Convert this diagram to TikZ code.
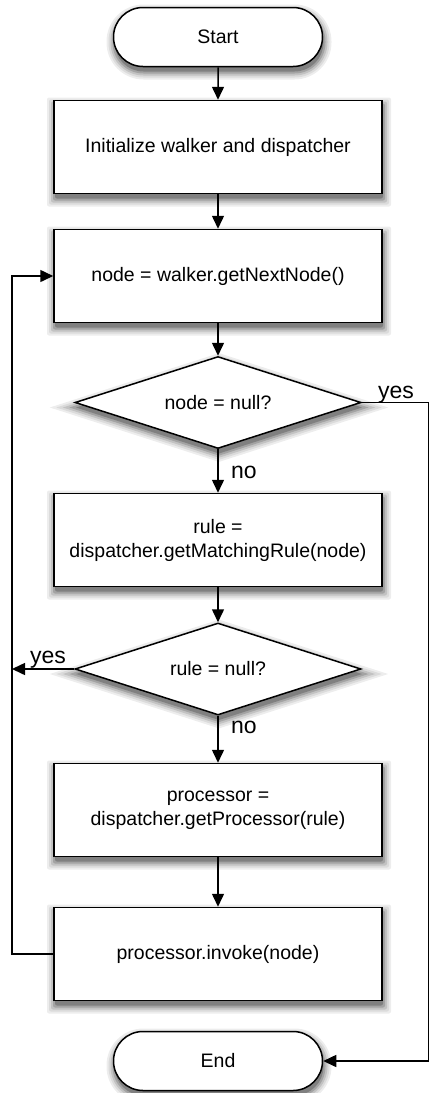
\documentclass[tikz,border=0pt]{standalone}
\usepackage{fontspec}
\setmainfont{Liberation Sans}
\usetikzlibrary{shapes.geometric,shapes.misc,arrows.meta}
\definecolor{shA}{gray}{0.93}
\definecolor{shB}{gray}{0.86}
\definecolor{shC}{gray}{0.76}
\definecolor{shD}{gray}{0.64}
\definecolor{shE}{gray}{0.50}
\newcommand\myrs[4]{%
  \foreach \ee/\cc in {8/shA,6/shB,4/shC,2/shD,0/shE}{%
    \fill[\cc, rounded corners=2pt] ({#1-#3/2+1-\ee},{#2-#4/2+5-\ee}) rectangle ({#1+#3/2+1+\ee},{#2+#4/2+5+\ee});}}
\newcommand\myts[4]{%
  \foreach \ee/\cc/\rr in {8/shA/37pt,6/shB/35pt,4/shC/33pt,2/shD/31pt,0/shE/29pt}{%
    \fill[\cc, rounded corners=\rr] ({#1-#3/2+1-\ee},{#2-#4/2+5-\ee}) rectangle ({#1+#3/2+1+\ee},{#2+#4/2+5+\ee});}}
\newcommand\myds[4]{%
  \foreach \ee/\cc in {8/shA,6/shB,4/shC,2/shD,0/shE}{%
    \fill[\cc] ({#1+1},{#2-#4/2+5-1.05*\ee}) -- ({#1+#3/2+1+3.27*\ee},{#2+5}) -- ({#1+1},{#2+#4/2+5+1.05*\ee}) -- ({#1-#3/2+1-3.27*\ee},{#2+5}) -- cycle;}}
\begin{document}
\begin{tikzpicture}[x=1pt,y=-1pt,
  base/.style={draw, line width=1.5pt, fill=white, font=\fontsize{19.5}{24}\selectfont, align=center, inner sep=0pt},
  procbox/.style={base, rectangle, minimum width=328pt, minimum height=93pt},
  term/.style={base, rounded rectangle, minimum width=209pt, minimum height=59pt},
  decide/.style={base, diamond, aspect=3.1, minimum width=286pt, minimum height=92pt},
  flow/.style={line width=1.5pt, -{Triangle[length=13pt,width=12pt]}},
  lbl/.style={font=\fontsize{23}{26}\selectfont, inner sep=0pt}
]
\useasboundingbox (0,0) rectangle (430,1093);
% shadows
\myts{218}{37}{209}{59}
\myrs{218}{147}{328}{93}
\myrs{218}{276}{328}{93}
\myds{218}{402.5}{286}{92}
\myrs{218}{540}{328}{93}
\myds{218}{669}{286}{92}
\myrs{218}{810}{328}{93}
\myrs{218}{954}{328}{93}
\myts{218}{1061}{209}{59}

\node[term] (start) at (218,37) {Start};
\node[procbox] (init) at (218,147) {Initialize walker and dispatcher};
\node[procbox] (next) at (218,276) {node = walker.getNextNode()};
\node[decide] (d1) at (218,402.5) {node = null?};
\node[procbox] (rule) at (218,540) {rule =\\dispatcher.getMatchingRule(node)};
\node[decide] (d2) at (218,669) {rule = null?};
\node[procbox] (proc) at (218,810) {processor =\\dispatcher.getProcessor(rule)};
\node[procbox] (inv) at (218,954) {processor.invoke(node)};
\node[term] (end) at (218,1061) {End};

\draw[flow] (start) -- (init);
\draw[flow] (init) -- (next);
\draw[flow] (next) -- (d1);
\draw[flow] (d1) -- (rule);
\draw[flow] (rule) -- (d2);
\draw[flow] (d2) -- (proc);
\draw[flow] (proc) -- (inv);

\coordinate (lx) at (12,954);
\coordinate (lj) at (12,669);
\coordinate (rx) at (428.5,402.5);
\draw[flow] (inv.west) -- (lx) |- (next.west);
\draw[flow] (d2.west) -- (lj);
\draw[flow] (d1.east) -- (rx) |- (end.east);

\node[lbl, anchor=base west] (yes1) at (378,398) {yes};
\node[lbl, anchor=base west] (yes2) at (30,663) {yes};
\node[lbl, anchor=west] (no1) at (231,472) {no};
\node[lbl, anchor=west] (no2) at (231,727) {no};
\end{tikzpicture}
\end{document}
